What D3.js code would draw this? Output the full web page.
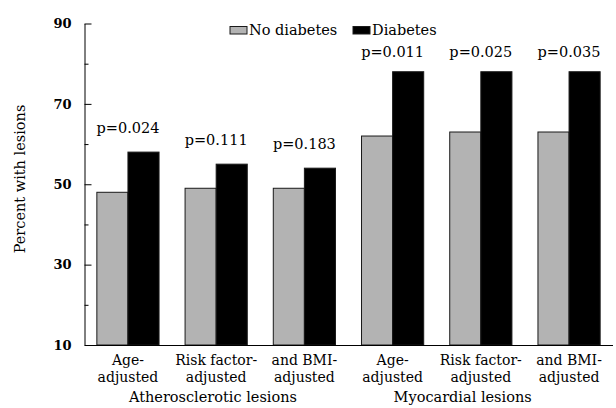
<!DOCTYPE html>
<html>
<head>
<meta charset="utf-8">
<script src="https://cdn.jsdelivr.net/npm/d3@7"></script>
<style>
  html, body { margin: 0; padding: 0; background: #fff; }
  svg { display: block; font-family: "DejaVu Serif", serif; }
</style>
</head>
<body>
<svg id="chart" width="616" height="408"></svg>
<script>
// Adjustment models (two-line tick labels), grouped by lesion type
const categoryLines = [
  ["Age-", "adjusted"],
  ["Risk factor-", "adjusted"],
  ["and BMI-", "adjusted"],
  ["Age-", "adjusted"],
  ["Risk factor-", "adjusted"],
  ["and BMI-", "adjusted"]
];
const lesionGroups = ["Atherosclerotic lesions", "Myocardial lesions"];
const seriesNames = ["No diabetes", "Diabetes"];
const noDiabetes = [48, 49, 49, 62, 63, 63];
const diabetes = [58, 55, 54, 78, 78, 78];
const pLabels = ["p=0.024", "p=0.111", "p=0.183", "p=0.011", "p=0.025", "p=0.035"];
const yMajorTicks = [10, 30, 50, 70, 90];
const yMinorTicks = [20, 40, 60, 80];

const colors = { "No diabetes": "#b3b3b3", "Diabetes": "#000000" };

const svg = d3.select("#chart");
const plot = { left: 84.5, right: 612.5, top: 23.5, bottom: 345 };

const idx = d3.range(categoryLines.length);
const x = d3.scaleBand().domain(idx).range([plot.left, plot.right])
  .paddingInner(0.295).paddingOuter(0.14);
const xs = d3.scaleBand().domain(seriesNames).range([0, x.bandwidth()]);
const y = d3.scaleLinear().domain([10, 90]).range([plot.bottom, plot.top]);

const rows = idx.map(i => ({ i, values: [noDiabetes[i], diabetes[i]] }));

// Bars
const g = svg.append("g");
g.selectAll("g.grp").data(rows).join("g")
  .attr("class", "grp")
  .attr("transform", d => `translate(${x(d.i)},0)`)
  .selectAll("rect")
  .data(d => seriesNames.map((s, k) => ({ s, v: d.values[k] })))
  .join("rect")
  .attr("x", d => xs(d.s))
  .attr("y", d => y(d.v))
  .attr("width", xs.bandwidth())
  .attr("height", d => y(10) - y(d.v))
  .attr("fill", d => colors[d.s])
  .attr("stroke", "#1a1a1a")
  .attr("stroke-width", 1);

// p-value labels above each pair
svg.append("g").selectAll("text").data(rows).join("text")
  .attr("x", d => x(d.i) + x.bandwidth() / 2)
  .attr("y", d => Math.max(y(d3.max(d.values)) - 19, 57))
  .attr("text-anchor", "middle")
  .attr("font-size", 14.5)
  .text(d => pLabels[d.i]);

// Y axis: major ticks pointing inward, labels bold
const yAxis = svg.append("g").attr("transform", `translate(${plot.left},0)`)
  .call(d3.axisLeft(y).tickValues(yMajorTicks).tickSizeInner(-7).tickSizeOuter(0).tickPadding(13));
yAxis.selectAll("text").attr("font-family", "DejaVu Serif, serif")
  .attr("font-size", 13).attr("font-weight", "bold").attr("fill", "#000");
yAxis.selectAll("line, path").attr("stroke", "#000");

const yMinor = svg.append("g").attr("transform", `translate(${plot.left},0)`)
  .call(d3.axisLeft(y).tickValues(yMinorTicks).tickSizeInner(-4).tickSizeOuter(0).tickFormat(""));
yMinor.select(".domain").remove();
yMinor.selectAll("line").attr("stroke", "#000");

// X axis baseline and two-line category labels
const xAxis = svg.append("g").attr("transform", `translate(0,${plot.bottom})`)
  .call(d3.axisBottom(x).tickSize(0).tickSizeOuter(0).tickFormat(""));
xAxis.select(".domain").attr("stroke", "#000");
xAxis.selectAll(".tick text").remove();

const xLabels = svg.append("g").selectAll("text").data(idx).join("text")
  .attr("x", i => x(i) + x.bandwidth() / 2)
  .attr("y", plot.bottom + 20)
  .attr("text-anchor", "middle")
  .attr("font-size", 14);
xLabels.selectAll("tspan").data(i => categoryLines[i]).join("tspan")
  .attr("x", function () { return d3.select(this.parentNode).attr("x"); })
  .attr("dy", (d, k) => k === 0 ? 0 : 17)
  .text(d => d);

// Lesion group labels, starting at the first group's Diabetes bar
svg.append("g").selectAll("text").data(lesionGroups).join("text")
  .attr("x", (d, k) => x(k * 3) + xs("Diabetes") + 1)
  .attr("y", plot.bottom + 57)
  .attr("font-size", 14.5)
  .text(d => d);

// Y axis title
svg.append("text")
  .attr("transform", "translate(20,179) rotate(-90)")
  .attr("text-anchor", "middle")
  .attr("dominant-baseline", "central")
  .attr("font-size", 14.5)
  .text("Percent with lesions");

// Legend
const legend = svg.append("g").attr("transform", "translate(230,26.5)");
const legendX = [0, 123];
const li = legend.selectAll("g").data(seriesNames).join("g")
  .attr("transform", (d, k) => `translate(${legendX[k]},0)`);
li.append("rect").attr("width", 17).attr("height", 7.5)
  .attr("fill", d => colors[d]).attr("stroke", "#1a1a1a").attr("stroke-width", 1);
li.append("text").attr("x", 19).attr("y", 8).attr("font-size", 14.5).text(d => d);
</script>
</body>
</html>
